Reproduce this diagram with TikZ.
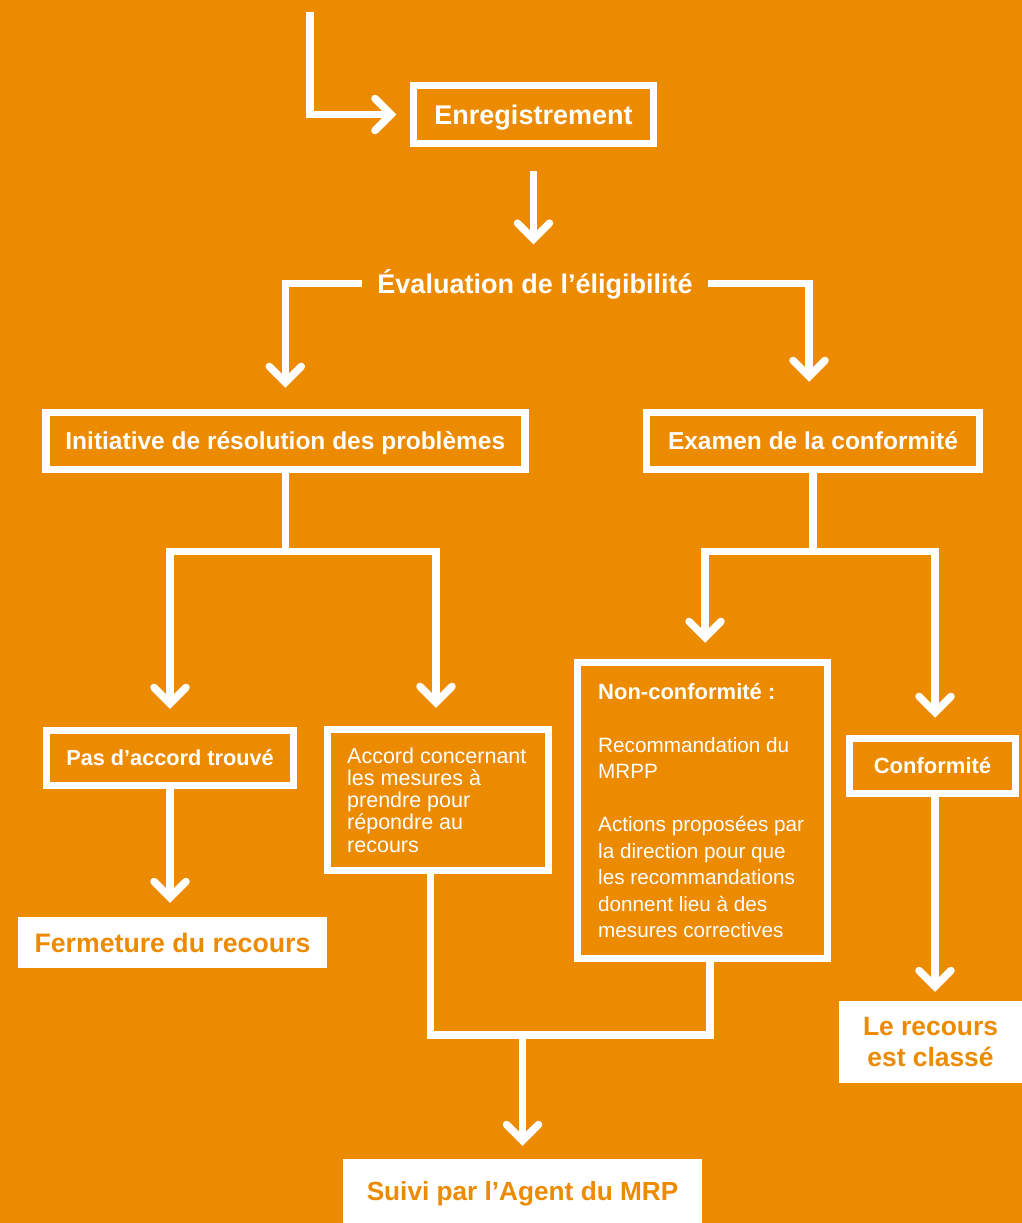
\documentclass[tikz,border=0pt]{standalone}
\usepackage{fontspec}
\setmainfont{Liberation Sans}
\usetikzlibrary{arrows.meta,calc}
\definecolor{bg}{RGB}{236,138,0}
\begin{document}
\begin{tikzpicture}[x=1pt,y=-1pt,
  every node/.style={text=white, inner sep=0pt},
  box/.style={draw=white, line width=7.5pt, align=center},
  bf/.style={font=\bfseries\fontsize{#1}{30}\selectfont, text height=0.716*#1 pt, text depth=0pt},
  endbox/.style={fill=white, text=bg, align=center},
  conn/.style={draw=white, line width=7.5pt, line join=miter},
  arr/.style={conn, -{Straight Barb[length=16pt,width=32pt,line cap=round,line join=miter]}}]
\fill[bg] (0,0) rectangle (1022,1223);
\useasboundingbox (0,0) rectangle (1022,1223);

% boxes
\node[box, bf=27, minimum width=240pt, minimum height=58pt] (enreg) at (533.5,114.5) {Enregistrement};
\node[bf=27, anchor=base, inner xsep=15pt] (eval) at (535,293) {Évaluation de l’éligibilité};
\node[box, bf=24.5, minimum width=479pt, minimum height=57pt] (init) at (285.3,441) {Initiative de résolution des problèmes};
\node[box, bf=24.5, minimum width=333pt, minimum height=57pt] (exam) at (813,441) {Examen de la conformité};
\node[box, bf=21.7, minimum width=247pt, minimum height=55pt] (pas) at (170,758) {Pas d’accord trouvé};
\node[box, minimum width=221pt, minimum height=141pt] (accord) at (438,800) {};
\node[anchor=base west, align=left, font=\fontsize{21.5}{22.25}\selectfont] (accordtxt) at (347,852)
  {Accord concernant\\les mesures à\\prendre pour\\répondre au\\recours};
\node[box, minimum width=250pt, minimum height=296pt] (nonconf) at (702.5,810.5) {};
\node[anchor=base west, align=left, font=\fontsize{20.7}{26.5}\selectfont] (nctxt) at (598,937.5)
  {\textbf{\fontsize{22}{26.5}\selectfont Non-conformité :}\\[26.5pt]Recommandation du\\MRPP\\[26.5pt]Actions proposées par\\la direction pour que\\les recommandations\\donnent lieu à des\\mesures correctives};
\node[box, bf=22, minimum width=166pt, minimum height=55pt] (conf) at (932.5,766) {Conformité};

% end boxes
\node[endbox, bf=26.7, minimum width=309pt, minimum height=51pt] (ferm) at (172.5,942.5) {Fermeture du recours};
\node[endbox, font=\bfseries\fontsize{26.4}{31}\selectfont, minimum width=183pt, minimum height=82pt] (recours) at (930.5,1042) {Le recours\\est classé};
\node[endbox, bf=26.2, minimum width=359pt, minimum height=64pt] (suivi) at (522.5,1191) {Suivi par l’Agent du MRP};

% connectors
\coordinate (start) at (310,12);
\draw[arr, shorten >=13.5pt] (start) |- (enreg.west);
\draw[arr, shorten <=23.5pt, shorten >=29pt] (enreg.south) -- (enreg.south |- eval.north);
\draw[arr, shorten >=21pt] (eval.west) -| (init.north);
\coordinate (exn) at ($(exam.north)+(-4,0)$);
\draw[arr, shorten >=27pt] (eval.east) -| (exn);

\coordinate (ib) at ($(init.south)+(0,78)$);
\draw[conn] (init.south) -- (ib);
\draw[arr, shorten >=18pt] (ib) -| (pas.north);
\coordinate (acn) at ($(accord.north)+(-2,0)$);
\draw[arr, shorten >=18pt] (ib) -| (acn);

\coordinate (eb) at ($(exam.south)+(0,78)$);
\draw[conn] (exam.south) -- (eb);
\coordinate (ncn) at ($(nonconf.north)+(2.5,0)$);
\draw[arr, shorten >=16pt] (eb) -| (ncn);
\coordinate (cfn) at ($(conf.north)+(2.5,0)$);
\draw[arr, shorten >=17pt] (eb) -| (cfn);

\draw[arr, shorten >=14pt] (pas.south) -- (pas.south |- ferm.north);
\coordinate (cs) at ($(conf.south)+(2.5,0)$);
\draw[arr, shorten >=9pt] (cs) -- (cs |- recours.north);

\coordinate (as) at ($(accord.south)+(-7.5,0)$);
\coordinate (ns) at ($(nonconf.south)+(7.5,0)$);
\coordinate (jn) at ($(suivi.north)+(0,-124)$);
\draw[conn] (as) |- (jn) -| (ns);
\draw[arr, shorten >=13pt] (jn) -- (suivi.north);
\end{tikzpicture}
\end{document}
